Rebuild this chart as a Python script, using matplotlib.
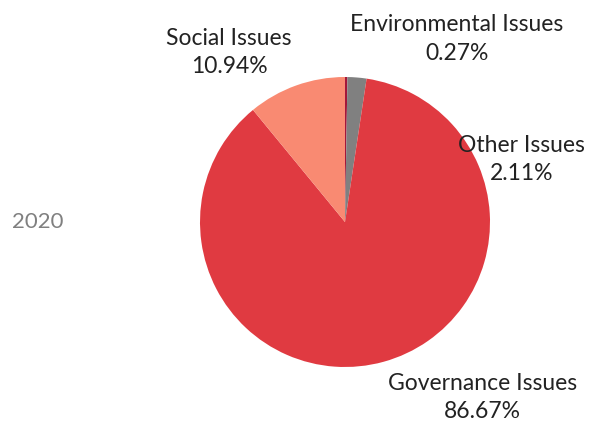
import matplotlib
matplotlib.use("Agg")
import matplotlib.pyplot as plt

categories = ["Environmental Issues", "Other Issues", "Governance Issues", "Social Issues"]
values = [0.27, 2.11, 86.67, 10.94]
colors = ["#a3173a", "#808080", "#e03a41", "#f98a72"]
year_label = "2020"

W, H = 592, 421
fig = plt.figure(figsize=(W / 100, H / 100), dpi=100)
cx, cy, r = 345, 222, 145
ax = fig.add_axes([(cx - r) / W, (H - cy - r) / H, 2 * r / W, 2 * r / H])
ax.pie(values, colors=colors, startangle=90, counterclock=False, radius=1,
       wedgeprops=dict(linewidth=0))
ax.set_xlim(-1, 1)
ax.set_ylim(-1, 1)
ax.set_aspect("equal")
ax.axis("off")

label_pos = {
    "Environmental Issues": (0.77, 1.26),
    "Other Issues": (1.22, 0.43),
    "Governance Issues": (0.95, -1.21),
    "Social Issues": (-0.80, 1.17),
}
for cat, v in zip(categories, values):
    x, y = label_pos[cat]
    ax.text(x, y, f"{cat}\n{v:.2f}%", ha="center", va="center", fontsize=16.5,
            family="Lato", color="#222222", linespacing=1.45, clip_on=False)

fig.text(38 / W, 1 - 222 / H, year_label, ha="center", va="center", fontsize=16,
         family="Lato", color="#808080")

fig.savefig("out.png", dpi=100)
